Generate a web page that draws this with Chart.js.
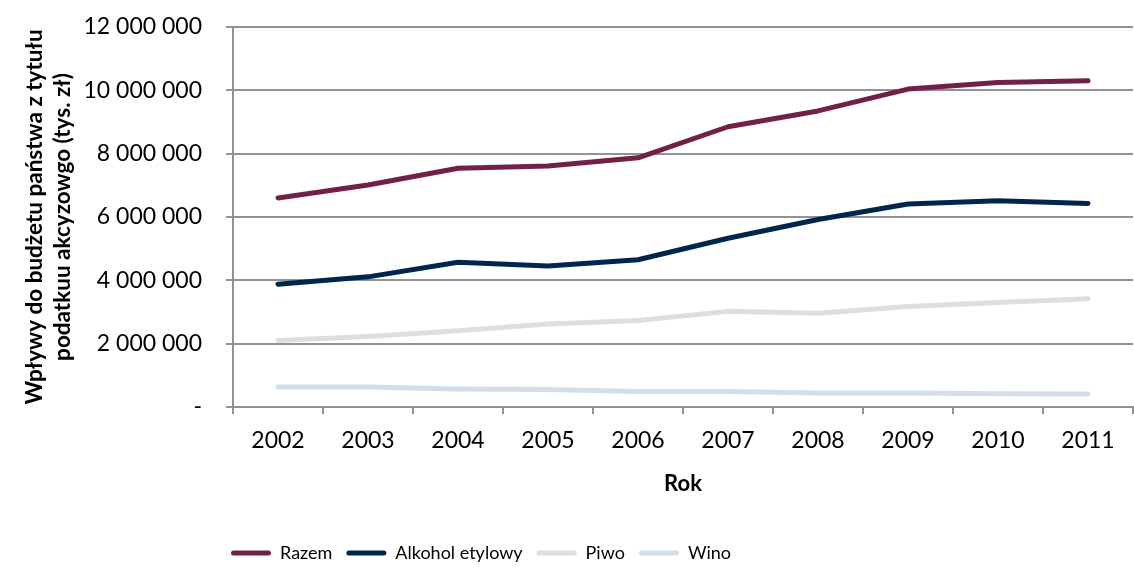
<!DOCTYPE html>
<html>
<head>
<meta charset="utf-8">
<script src="https://cdn.jsdelivr.net/npm/chart.js@4"></script>
<style>
  html, body { margin: 0; padding: 0; background: #fff; }
  #wrap { width: 1134px; height: 567px; }
</style>
</head>
<body>
<div id="wrap"><canvas id="chart-canvas" width="1134" height="567"></canvas></div>
<script>
const years = ['2002', '2003', '2004', '2005', '2006', '2007', '2008', '2009', '2010', '2011']

// tys. zł
const razem = [6600000, 7010000, 7540000, 7610000, 7870000, 8850000, 9350000, 10040000, 10250000, 10300000]
const alkoholEtylowy = [3880000, 4110000, 4570000, 4450000, 4650000, 5330000, 5920000, 6410000, 6510000, 6430000]
const piwo = [2100000, 2230000, 2410000, 2620000, 2730000, 3020000, 2960000, 3170000, 3300000, 3420000]
const wino = [630000, 630000, 570000, 550000, 490000, 490000, 440000, 440000, 420000, 410000]

const yTicks = [0, 2000000, 4000000, 6000000, 8000000, 10000000, 12000000]

const FONT = 'Lato, "Open Sans", sans-serif'
const GRID = '#929292'

function formatTick(value) {
  if (value === 0) return '-'
  return String(value).replace(/\B(?=(\d{3})+(?!\d))/g, ' ')
}

function series(label, data, color) {
  return {
    label: label,
    data: data,
    borderColor: color,
    backgroundColor: color,
    borderWidth: 5,
    borderCapStyle: 'round',
    borderJoinStyle: 'round',
    pointRadius: 0,
    pointHoverRadius: 0,
    tension: 0,
    fill: false
  }
}

// nudge the legend so it starts under the y axis line
const legendShift = {
  id: 'legendShift',
  afterLayout(chart) {
    chart.legend.left -= 16
    chart.legend.right -= 16
  }
}

const chartData = {
  labels: years,
  datasets: [
    series('Razem', razem, '#712146'),
    series('Alkohol etylowy', alkoholEtylowy, '#00264d'),
    series('Piwo', piwo, '#dcdee4'),
    series('Wino', wino, '#d4deeb')
  ]
}

const ctx = document.querySelector('#chart-canvas')
new Chart(ctx, {
  type: 'line',
  data: chartData,
  plugins: [legendShift],
  options: {
    responsive: false,
    animation: false,
    layout: { padding: { top: 27, right: 1, bottom: -5, left: 0 } },
    plugins: {
      tooltip: { enabled: false },
      legend: {
        position: 'bottom',
        align: 'start',
        fullSize: false,
        labels: {
          boxWidth: 40,
          boxHeight: 5,
          padding: 14,
          color: '#000',
          font: { family: FONT, size: 18 },
          useBorderRadius: true,
          borderRadius: 2.5,
          generateLabels(chart) {
            const items = Chart.defaults.plugins.legend.labels.generateLabels(chart)
            return items.map(item => ({ ...item, fillStyle: item.strokeStyle, lineWidth: 0 }))
          }
        }
      }
    },
    scales: {
      x: {
        offset: true,
        grid: {
          offset: true,
          drawOnChartArea: false,
          drawTicks: true,
          tickLength: 7,
          color: GRID,
          lineWidth: 2
        },
        border: { display: true, color: GRID, width: 2 },
        ticks: {
          color: '#000',
          padding: 13,
          maxRotation: 0,
          font: { family: FONT, size: 23 }
        },
        title: {
          display: true,
          text: 'Rok',
          color: '#000',
          font: { family: FONT, size: 22, weight: 'bold' },
          padding: { top: 0, bottom: 33 }
        },
        afterFit(scale) { scale.height = 123 }
      },
      y: {
        min: 0,
        max: 12000000,
        afterBuildTicks(scale) { scale.ticks = yTicks.map(v => ({ value: v })) },
        grid: {
          color: GRID,
          lineWidth: 2,
          drawTicks: true,
          tickLength: 7
        },
        border: { display: true, color: GRID, width: 2 },
        ticks: {
          color: '#000',
          padding: 24,
          font: { family: FONT, size: 23 },
          callback: value => formatTick(value)
        },
        title: {
          display: true,
          text: ['Wpływy do budżetu państwa z tytułu', 'podatkuu akcyzowgo (tys. zł)'],
          color: '#000',
          font: { family: FONT, size: 22.5, weight: 'bold', lineHeight: 1.25 },
          padding: { top: 21, bottom: 0 }
        },
        afterFit(scale) {
          // the tick padding would otherwise push the plot area down
          scale.width = 233
          scale.paddingTop = 0
          scale.paddingBottom = 0
        }
      }
    }
  }
})
</script>
</body>
</html>
